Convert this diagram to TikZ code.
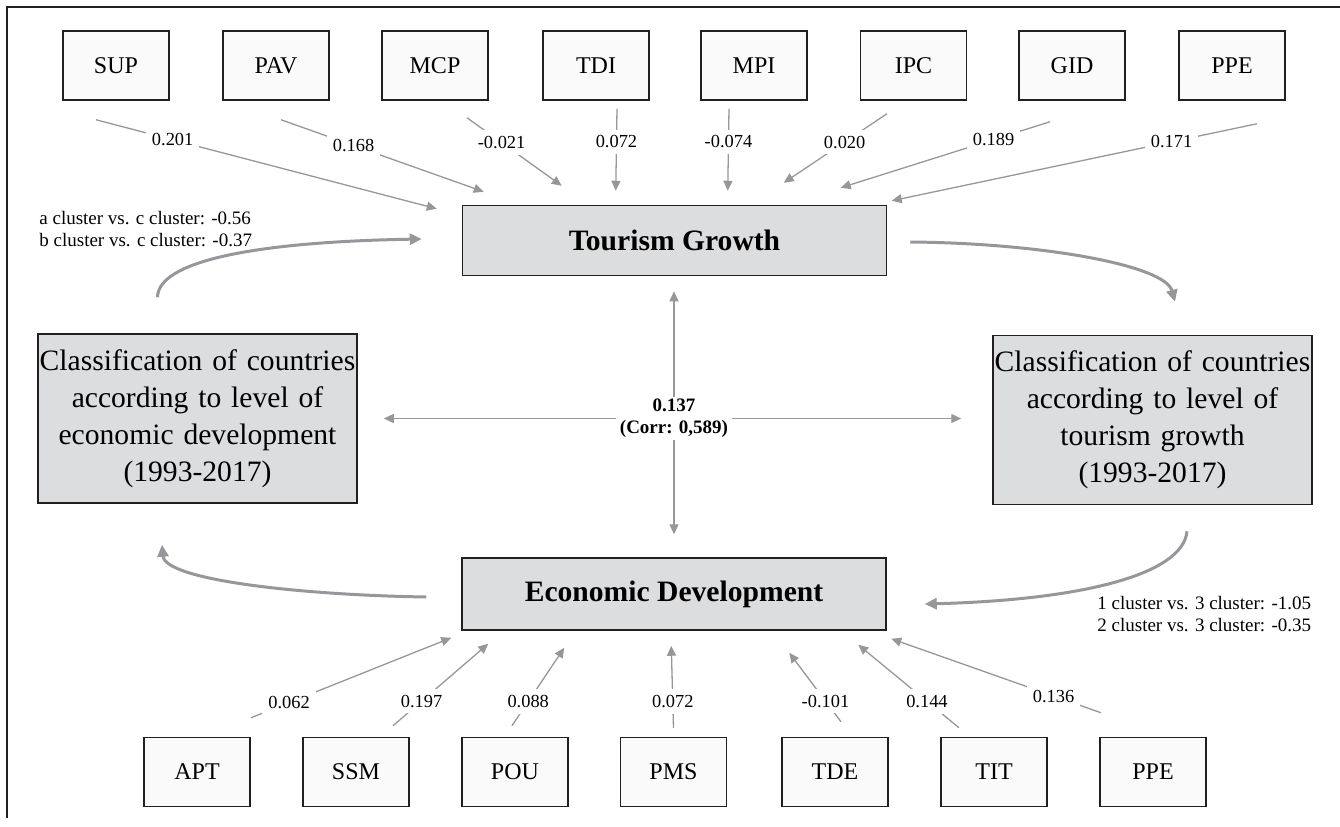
\documentclass[tikz,border=0pt]{standalone}
\usepackage{fontspec}
\setmainfont{Liberation Serif}
\usetikzlibrary{arrows.meta,calc,positioning}
\definecolor{arrgray}{RGB}{150,151,155}
\definecolor{boxgray}{RGB}{220,221,223}
\definecolor{framegray}{RGB}{35,31,32}

\begin{document}
\begin{tikzpicture}[x=0.5pt,y=-0.5pt,
	indic/.style={draw=framegray,line width=0.75pt,fill=black!2,minimum width=53pt,minimum height=34.5pt,inner sep=0pt,font=\fontsize{12}{14}\selectfont},
	factor/.style={draw=framegray,line width=0.75pt,fill=boxgray,minimum width=212pt,minimum height=35pt,inner sep=0pt,font=\fontsize{14.8}{17}\selectfont\bfseries},
	cls/.style={draw=framegray,line width=0.75pt,fill=boxgray,minimum width=159.5pt,minimum height=84.5pt,text width=159pt,align=center,inner sep=0pt,font=\fontsize{14.8}{18.5}\selectfont},
	coef/.style={fill=white,inner sep=3pt,font=\fontsize{9.2}{10}\selectfont},
	effect/.style={draw=arrgray,line width=0.65pt,-{Triangle[length=5pt,width=4.5pt]}},
	cyc/.style={draw=arrgray,line width=1.5pt,-{Triangle[length=6pt,width=5.5pt]}},
	note/.style={align=left,inner sep=0pt,font=\fontsize{9.5}{10.8}\selectfont}]
		\useasboundingbox (0,0) rectangle (1340,826);
		\draw[framegray,line width=0.75pt] (1340,7) -- (7,7) -- (7,818);
		% main boxes
		\node[factor] (tourism) at (674.5,240.5) {Tourism Growth};
		\node[factor,minimum height=36pt] (econ) at (674,594) {Economic Development};
		\node[cls] (clsecon) at (197.5,418.5) {Classification of countries\\according to level of\\economic development\\(1993-2017)};
		\node[cls] (clstour) at (1152.5,420) {Classification of countries\\according to level of\\tourism growth\\(1993-2017)};
		% indicators
		\foreach \n/\x/\t in {sup/116/SUP,pav/276/PAV,mcp/435/MCP,tdi/596/TDI,mpi/754/MPI,ipc/913.5/IPC,gid/1072/GID,ppeT/1232/PPE}
		\node[indic] (\n) at (\x,65.5) {\t};
		\foreach \n/\x/\t in {apt/197/APT,ssm/356/SSM,pou/515/POU,pms/673.5/PMS,tde/835/TDE,tit/994/TIT,ppeB/1153/PPE}
		\node[indic] (\n) at (\x,772) {\t};
		% paths to tourism growth
		\foreach \n/\sx/\sy/\ex/\ey/\p/\v in {sup/-20/19/-25/4/0.225/0.201,pav/5/19/22/-13/0.358/0.168,mcp/32/17/100/-19/0.365/-0.021,tdi/21/8/154/-14/0.405/0.072,mpi/-25/8/266/-14/0.405/-0.074,ipc/-26.5/13/322/-22/0.41/0.020,gid/-22/21/379/-17/0.27/0.189,ppeT/25/23/430/-4/0.234/0.171}
		\draw[effect] ([shift={(\sx,\sy)}]\n.south) -- node[coef,pos=\p] {\v} ([shift={(\ex,\ey)}]tourism.north west);
		% paths to economic development
		\foreach \n/\sx/\sy/\ex/\ey/\p/\v in {apt/54/-19/-10/7/0.19/0.062,ssm/37/-11/27/13/0.3/0.197,pou/-3/-11/103/17/0.31/0.088,pms/0/-9/210/15/0.32/0.072,tde/6/-15/328/22/0.3/-0.101,tit/-35/-9/397/14/0.318/0.144,ppeB/-52/-24/430/8/0.226/0.136}
		\draw[effect] ([shift={(\sx,\sy)}]\n.north) -- node[coef,pos=\p] {\v} ([shift={(\ex,\ey)}]econ.south west);
		% correlation cross
		\node[fill=white,inner xsep=2pt,inner ysep=1pt,align=center,font=\fontsize{9.5}{11}\selectfont\bfseries] (corr) at (674,418.5) {0.137\\(Corr: 0,589)};
		\draw[effect] (corr) -- ([shift={(26,0)}]clsecon.east);
		\draw[effect] (corr) -- ([shift={(-31,-1.5)}]clstour.west);
		\draw[effect] (corr) -- ([shift={(-0.5,15)}]tourism.south);
		\draw[effect] (corr) -- ([shift={(0,-23)}]econ.north);
		% cluster effects
		\draw[cyc] ([shift={(-40,-36)}]clsecon.north) .. controls (158,262) and (250,242) .. ([shift={(-40,-1.5)}]tourism.west);
		\draw[cyc] ([shift={(23,1.5)}]tourism.east) .. controls (1040,243) and (1165,265) .. ([shift={(22.5,-33)}]clstour.north);
		\draw[cyc] ([shift={(34.5,26)}]clstour.south) .. controls (1183,575) and (1080,600) .. ([shift={(38,10)}]econ.east);
		\draw[cyc] ([shift={(-35,3)}]econ.west) .. controls (300,595) and (165,580) .. ([shift={(-35.5,41)}]clsecon.south);
		\node[note,anchor=west] (noteA) at (39,229) {a cluster vs. c cluster: -0.56\\b cluster vs. c cluster: -0.37};
		\node[note,anchor=west] (noteB) at (1097,614) {1 cluster vs. 3 cluster: -1.05\\2 cluster vs. 3 cluster: -0.35};
\end{tikzpicture}
\end{document}
